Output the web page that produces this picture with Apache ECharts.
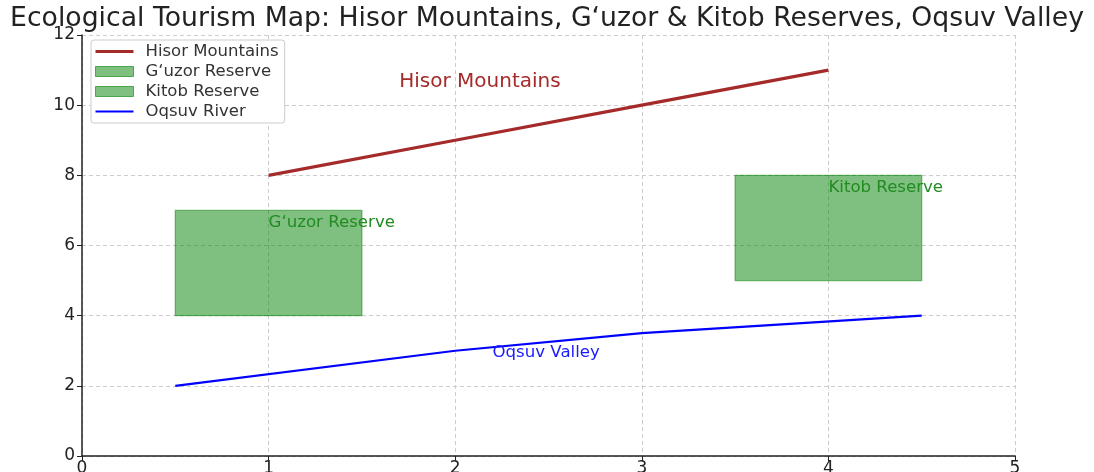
<!DOCTYPE html>
<html>
<head>
<meta charset="utf-8">
<script src="https://cdn.jsdelivr.net/npm/echarts@6/dist/echarts.min.js"></script>
<style>
html,body{margin:0;padding:0;background:#fff;}
#chart{width:1094px;height:472px;}
</style>
</head>
<body>
<div id="chart"></div>
<script>
// ---- data ----
const titleText = 'Ecological Tourism Map: Hisor Mountains, G\u2018uzor & Kitob Reserves, Oqsuv Valley';
const hisorX = [1, 2, 3, 4];
const hisorY = [8, 9, 10, 11];
const oqsuvX = [0.5, 2, 3, 4.5];
const oqsuvY = [2, 3, 3.5, 4];
const guzorRect = [0.5, 4, 1.5, 7];   // x0, y0, x1, y1
const kitobRect = [3.5, 5, 4.5, 8];
const labelNames = ['Hisor Mountains', 'G\u2018uzor Reserve', 'Kitob Reserve', 'Oqsuv Valley'];
const labelX = [1.7, 1.0, 4.0, 2.2];
const labelY = [10.5, 6.5, 7.5, 2.8];
const labelColors = ['#a52a2a', '#228b22', '#228b22', '#1a1aff'];
const labelSizes = [20, 16.6, 16.6, 16.6];
const xTicks = [0, 1, 2, 3, 4, 5];
const yTicks = [0, 2, 4, 6, 8, 10, 12];

const FONT = 'DejaVu Sans';
const zip = (a, b) => a.map((v, i) => [v, b[i]]);

function rectRender(params, api) {
  const p0 = api.coord([api.value(0), api.value(3)]);
  const p1 = api.coord([api.value(2), api.value(1)]);
  return {
    type: 'rect',
    shape: { x: p0[0], y: p0[1], width: p1[0] - p0[0], height: p1[1] - p0[1] },
    style: { fill: 'rgba(0,128,0,0.5)', stroke: 'rgba(0,128,0,0.5)', lineWidth: 1.2 }
  };
}

const chart = echarts.init(document.getElementById('chart'));
chart.setOption({
  animation: false,
  backgroundColor: '#fff',
  title: {
    text: titleText, left: 'center', top: 1,
    textStyle: { fontFamily: FONT, fontSize: 26.7, fontWeight: 'normal', color: '#222' }
  },
  grid: { left: 82, right: 79, top: 35, bottom: 16, containLabel: false, outerBoundsMode: 'none' },
  legend: {
    orient: 'vertical', left: 91, top: 40,
    symbolKeepAspect: true,
    data: [
      { name: 'Hisor Mountains', icon: 'path://M0,0H38V3.2H0Z', itemStyle: { color: '#a52a2a' } },
      { name: 'G\u2018uzor Reserve', icon: 'rect', itemStyle: { color: 'rgba(0,128,0,0.5)', borderColor: 'rgba(0,128,0,0.6)', borderWidth: 1 } },
      { name: 'Kitob Reserve', icon: 'rect', itemStyle: { color: 'rgba(0,128,0,0.5)', borderColor: 'rgba(0,128,0,0.6)', borderWidth: 1 } },
      { name: 'Oqsuv River', icon: 'path://M0,0H38V2.2H0Z', itemStyle: { color: '#0000ff' } }
    ],
    itemWidth: 38, itemHeight: 10, itemGap: 3,
    padding: [3, 6, 3, 4],
    backgroundColor: '#fff', borderColor: '#ccc', borderWidth: 1, borderRadius: 3,
    textStyle: { fontFamily: FONT, fontSize: 16.5, color: '#333', padding: [0, 0, 0, 7] }
  },
  xAxis: {
    type: 'value', min: xTicks[0], max: xTicks[xTicks.length - 1], interval: 1,
    axisLine: { show: true, onZero: false, lineStyle: { color: '#222', width: 1.5 } },
    axisTick: { show: true, length: 5, lineStyle: { color: '#222' } },
    axisLabel: { fontFamily: FONT, fontSize: 17, color: '#222', margin: 4 },
    splitLine: { show: true, lineStyle: { color: '#ccc', type: [4, 3], width: 1 } }
  },
  yAxis: {
    type: 'value', min: yTicks[0], max: yTicks[yTicks.length - 1], interval: 2,
    axisLine: { show: true, onZero: false, lineStyle: { color: '#222', width: 1.5 } },
    axisTick: { show: true, length: 5, lineStyle: { color: '#222' } },
    axisLabel: { fontFamily: FONT, fontSize: 17, color: '#222', margin: 7 },
    splitLine: { show: true, lineStyle: { color: '#ccc', type: [4, 3], width: 1 } }
  },
  series: [
    {
      name: 'Hisor Mountains', type: 'line', data: zip(hisorX, hisorY),
      symbol: 'none', lineStyle: { color: '#a52a2a', width: 3.2 }, itemStyle: { color: '#a52a2a' }, z: 5
    },
    {
      name: 'G\u2018uzor Reserve', type: 'custom', renderItem: rectRender,
      data: [guzorRect], encode: { x: [0, 2], y: [1, 3] },
      itemStyle: { color: 'rgba(0,128,0,0.5)' }, z: 3
    },
    {
      name: 'Kitob Reserve', type: 'custom', renderItem: rectRender,
      data: [kitobRect], encode: { x: [0, 2], y: [1, 3] },
      itemStyle: { color: 'rgba(0,128,0,0.5)' }, z: 3
    },
    {
      name: 'Oqsuv River', type: 'line', data: zip(oqsuvX, oqsuvY),
      symbol: 'none', lineStyle: { color: '#0000ff', width: 2.2 }, itemStyle: { color: '#0000ff' }, z: 5
    },
    {
      name: 'labels', type: 'custom',
      data: labelX.map((x, i) => [x, labelY[i], i]),
      encode: { x: 0, y: 1 },
      renderItem: function (params, api) {
        const p = api.coord([api.value(0), api.value(1)]);
        const i = api.value(2);
        const fs = labelSizes[i];
        return {
          type: 'text', x: p[0], y: p[1] - 0.3 * fs,
          style: {
            text: labelNames[i], fill: labelColors[i],
            font: fs + 'px "DejaVu Sans"', textAlign: 'left', textVerticalAlign: 'middle'
          }
        };
      },
      z: 6
    }
  ]
});
</script>
</body>
</html>
